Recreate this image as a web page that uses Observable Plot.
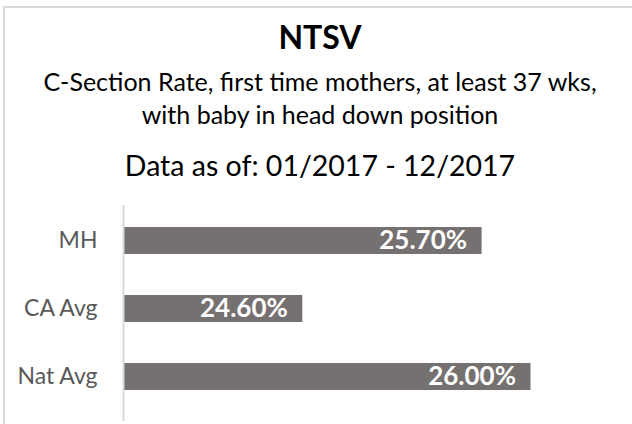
<!DOCTYPE html>
<html><head><meta charset="utf-8">
<script src="https://cdn.jsdelivr.net/npm/d3@7"></script>
<script src="https://cdn.jsdelivr.net/npm/@observablehq/plot@0.6"></script>
<style>
html,body{margin:0;padding:0;background:#fff;}
#wrap{position:relative;width:632px;height:424px;overflow:hidden;font-family:Lato,sans-serif;}
#border{position:absolute;left:3px;top:6px;width:700px;height:500px;border:2px solid #d9d9d9;box-sizing:border-box;}
.t{position:absolute;left:0;width:640px;text-align:center;color:#000;white-space:nowrap;line-height:1.2;}
#title{top:18px;font-weight:bold;font-size:32px;}
#sub1{top:66px;font-size:25px;}
#sub2{top:99px;font-size:25px;}
#asof{top:148px;font-size:28.5px;}
#chart{position:absolute;left:0;top:190px;}
</style>
</head><body>
<div id="wrap">
  <div id="border"></div>
  <div class="t" id="title"></div>
  <div class="t" id="sub1"></div>
  <div class="t" id="sub2"></div>
  <div class="t" id="asof"></div>
  <div id="chart"></div>
</div>
<script>
const title = "NTSV";
const subtitleLines = ["C-Section Rate, first time mothers, at least 37 wks,", "with baby in head down position"];
const dateLine = "Data as of: 01/2017 - 12/2017";
const categories = ["MH", "CA Avg", "Nat Avg"];
const values = [25.7, 24.6, 26.0];
const xDomain = [23.5, 26.5];

document.getElementById("title").textContent = title;
document.getElementById("sub1").textContent = subtitleLines[0];
document.getElementById("sub2").textContent = subtitleLines[1];
document.getElementById("asof").textContent = dateLine;

const data = categories.map((c, i) => ({label: c, value: values[i]}));

const chart = Plot.plot({
  width: 632,
  height: 234,
  marginLeft: 123,
  marginRight: 20,
  marginTop: 15,
  marginBottom: 3,
  insetTop: 1,
  insetBottom: 10,
  style: {fontFamily: "Lato, sans-serif", background: "transparent"},
  x: {domain: xDomain, axis: null},
  y: {domain: categories, paddingInner: 0.6, paddingOuter: 0.3, axis: null, label: null},
  marks: [
    Plot.barX(data, {y: "label", x1: xDomain[0], x2: "value", fill: "#767171"}),
    Plot.ruleX([xDomain[0]], {stroke: "#d9d9d9", strokeWidth: 2}),
    Plot.text(data, {y: "label", x: "value", text: d => d.value.toFixed(2) + "%", textAnchor: "end", dx: -15, fill: "white", fontWeight: "bold", fontSize: 26}),
    Plot.axisY({tickSize: 0, tickPadding: 26, fontSize: 23, fill: "#595959", color: "#595959", label: null})
  ]
});
document.getElementById("chart").appendChild(chart);
</script>
</body></html>
